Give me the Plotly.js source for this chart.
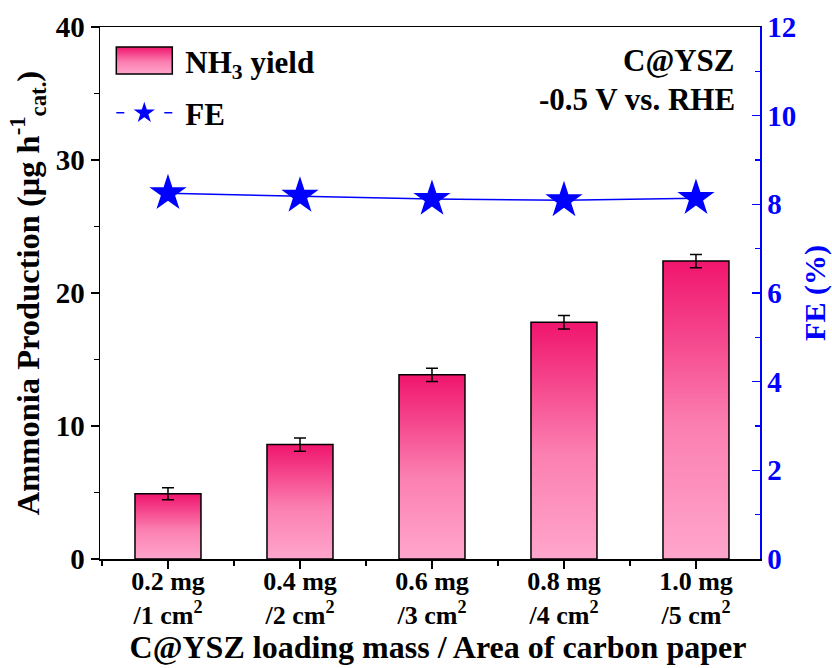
<!DOCTYPE html>
<html><head><meta charset="utf-8">
<script src="https://cdn.plot.ly/plotly-3.0.1.min.js"></script>
<style>body{margin:0;background:#fff}#plot{width:832px;height:668px}</style>
</head><body><div id="plot"></div>
<script>
const categories = ["0.2 mg<br>/1 cm<sup>2</sup>", "0.4 mg<br>/2 cm<sup>2</sup>", "0.6 mg<br>/3 cm<sup>2</sup>", "0.8 mg<br>/4 cm<sup>2</sup>", "1.0 mg<br>/5 cm<sup>2</sup>"];
const xpos = [1, 2, 3, 4, 5];
const nh3Yield = [4.9, 8.6, 13.85, 17.8, 22.4];
const nh3Err = [0.45, 0.5, 0.5, 0.5, 0.5];
const feValues = [8.25, 8.19, 8.12, 8.09, 8.14];

const F = "Liberation Serif, Times New Roman, serif";
const BLUE = "#0000ff";

const traces = [
  {type:'bar', name:'NH<sub>3</sub> yield', legendgroup:'a', x:xpos, y:nh3Yield, width:0.5,
   marker:{color:'#f75597', line:{color:'#000', width:1.5}},
   error_y:{type:'data', array:nh3Err, visible:true, color:'#000', thickness:1.5, width:6},
   yaxis:'y'},
  {type:'scatter', mode:'lines+markers', name:'FE', legendgroup:'b', x:xpos, y:feValues, yaxis:'y2',
   line:{color:BLUE, width:1.5},
   marker:{symbol:'star', size:28, color:BLUE}}
];

const layout = {
  width:832, height:668,
  margin:{l:100, r:72, t:27, b:109},
  paper_bgcolor:'#fff', plot_bgcolor:'#fff',
  font:{family:F, size:20, color:'#000', weight:700},
  showlegend:true,
  legend:{x:0.005, y:0.987, xanchor:'left', yanchor:'top', bgcolor:'rgba(0,0,0,0)',
    traceorder:'grouped', font:{family:F, size:31, weight:700}, tracegroupgap:9, itemwidth:72},
  xaxis:{range:[0.485, 5.485], tickmode:'array', tickvals:xpos, ticktext:categories,
    showline:true, linecolor:'#000', linewidth:1.5, mirror:true,
    ticks:'outside', ticklen:8, tickwidth:1.5, tickcolor:'#000', ticklabelstandoff:-10,
    minor:{tickmode:'linear', tick0:0.5, dtick:1, ticks:'outside', ticklen:5, tickwidth:1.5, tickcolor:'#000'},
    tickfont:{family:F, size:26, weight:700}, showgrid:false, zeroline:false,
    title:{text:'C@YSZ loading mass / Area of carbon paper', font:{family:F, size:32, weight:700}, standoff:4}},
  yaxis:{range:[0,40], tickvals:[0,10,20,30,40], showline:true, linecolor:'#000', linewidth:1.5,
    ticks:'outside', ticklen:8, tickwidth:1.5, tickcolor:'#000',
    minor:{tickmode:'linear', tick0:0, dtick:5, ticks:'outside', ticklen:5, tickwidth:1.5, tickcolor:'#000'},
    tickfont:{family:F, size:29, weight:700}, showgrid:false, zeroline:false,
    title:{text:'Ammonia Production (μg h<sup>-1</sup><sub>cat.</sub>)', font:{family:F, size:32.5, weight:700}, standoff:6}},
  yaxis2:{range:[0,12], tickvals:[0,2,4,6,8,10,12], overlaying:'y', side:'right',
    showline:true, linecolor:BLUE, linewidth:1.5,
    ticks:'inside', ticklen:8, tickwidth:1.5, tickcolor:BLUE,
    minor:{tickmode:'linear', tick0:1, dtick:2, ticks:'inside', ticklen:5, tickwidth:1.5, tickcolor:BLUE},
    tickfont:{family:F, size:29, weight:700, color:BLUE}, showgrid:false, zeroline:false,
    title:{text:'FE (%)', font:{family:F, size:30, weight:700, color:BLUE}, standoff:8}},
  annotations:[
    {xref:'paper', yref:'paper', x:0.965, y:0.937, xanchor:'right', yanchor:'middle', showarrow:false,
     text:'C@YSZ', font:{family:F, size:31, weight:700}},
    {xref:'paper', yref:'paper', x:0.965, y:0.863, xanchor:'right', yanchor:'middle', showarrow:false,
     text:'-0.5 V vs. RHE', font:{family:F, size:31, weight:700}}
  ]
};

function parseTranslate(t){
  const m = /translate\(\s*([-\d.e]+)[ ,]+([-\d.e]+)/.exec(t || '');
  return m ? [parseFloat(m[1]), parseFloat(m[2])] : [0,0];
}

function applyGradient(gd){
  const svg = gd.querySelector('svg.main-svg');
  const NS = 'http://www.w3.org/2000/svg';
  let defs = svg.querySelector('defs');
  if(!defs){defs = document.createElementNS(NS,'defs'); svg.insertBefore(defs, svg.firstChild);}
  if(!svg.querySelector('#pinkgrad')){
    const g = document.createElementNS(NS,'linearGradient');
    g.setAttribute('id','pinkgrad'); g.setAttribute('x1','0'); g.setAttribute('y1','0');
    g.setAttribute('x2','0'); g.setAttribute('y2','1');
    [['0%','#f0156d'],['55%','#fb7fb1'],['100%','#ffa6cc']].forEach(s=>{
      const st = document.createElementNS(NS,'stop');
      st.setAttribute('offset',s[0]); st.setAttribute('stop-color',s[1]); g.appendChild(st);
    });
    defs.appendChild(g);
  }
  gd.querySelectorAll('.barlayer .point path').forEach(p=>{ p.style.fill = 'url(#pinkgrad)'; });
  gd.querySelectorAll('.legend .legendpoints path').forEach(p=>{
    const f = p.style.fill;
    if(f && f.indexOf('247, 85, 151')>=0){
      p.style.fill = 'url(#pinkgrad)';
      p.setAttribute('d','M28,13.5H-28V-13.5H28Z');
    }
  });
  gd.querySelectorAll('.legend .traces').forEach(item=>{
    const line = item.querySelector('.legendlines path');
    const star = item.querySelector('.legendpoints path.scatterpts');
    if(line && star){
      const c = parseTranslate(star.getAttribute('transform'));
      line.setAttribute('d', 'M' + (c[0]-28) + ',0h8M' + (c[0]+20) + ',0h8');
      line.style.strokeDasharray = '';
    }
  });
  const xt = gd.querySelector('.g-xtitle text');
  if(xt){ xt.setAttribute('transform','translate(8,0)'); }
}

Plotly.newPlot('plot', traces, layout, {displayModeBar:false, staticPlot:true}).then(gd=>applyGradient(gd));
</script></body></html>
